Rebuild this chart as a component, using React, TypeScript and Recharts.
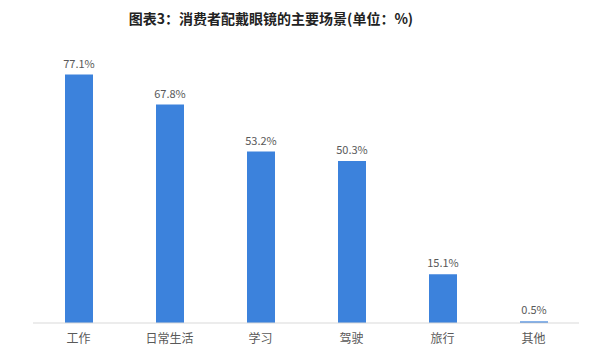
import { Bar, BarChart, LabelList, XAxis, YAxis } from 'recharts';

const scenes = ['工作', '日常生活', '学习', '驾驶', '旅行', '其他'];
const shares = [77.1, 67.8, 53.2, 50.3, 15.1, 0.5];

const data = scenes.map((name, i) => ({ name, value: shares[i] }));

const FONT = '"Noto Sans CJK SC", "Noto Sans", sans-serif';

export default function App() {
  return (
    <div
      style={{
        position: 'absolute',
        top: 0,
        left: 0,
        width: 600,
        height: 358,
        background: '#ffffff',
        fontFamily: FONT
      }}
    >
      <div
        style={{
          position: 'absolute',
          top: 7,
          left: 0,
          width: 542,
          textAlign: 'center',
          fontSize: 14,
          fontWeight: 700,
          color: '#222222',
          lineHeight: '22px'
        }}
      >
        图表3：消费者配戴眼镜的主要场景(单位：%)
      </div>
      <BarChart
        width={600}
        height={358}
        data={data}
        margin={{ top: 33, right: 21, left: 33, bottom: 0 }}
        barSize={28}
      >
        <XAxis
          dataKey="name"
          axisLine={{ stroke: '#d9d9d9' }}
          tickLine={false}
          tick={{ fill: '#595959', fontSize: 12, fontFamily: FONT }}
          dy={3}
          height={35}
        />
        <YAxis hide domain={[0, 90]} />
        <Bar dataKey="value" fill="#3c82dc" isAnimationActive={false}>
          <LabelList
            dataKey="value"
            position="top"
            offset={7}
            formatter={(v: number) => `${v}%`}
            style={{ fill: '#595959', fontSize: 11, fontFamily: FONT }}
          />
        </Bar>
      </BarChart>
    </div>
  );
}
